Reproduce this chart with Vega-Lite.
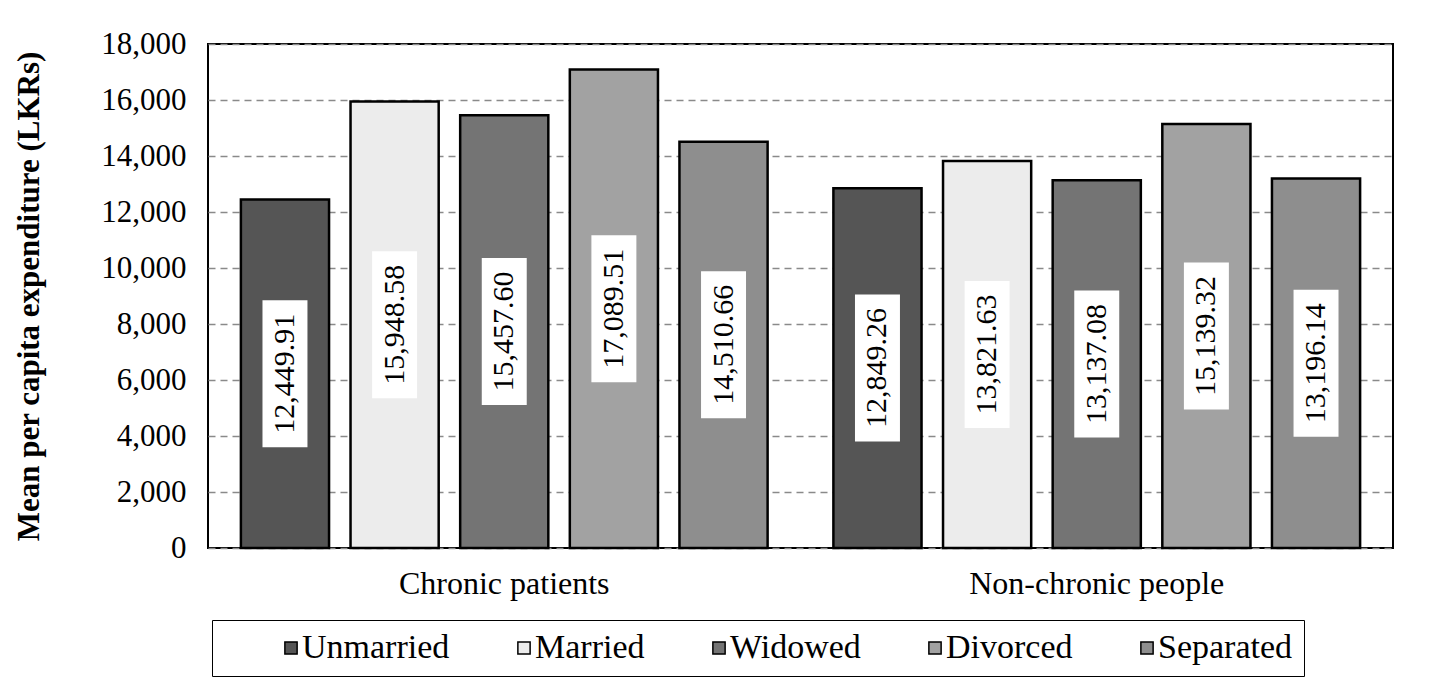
{
  "$schema": "https://vega.github.io/schema/vega-lite/v6.json",
  "autosize": {"type": "none"},
  "width": 1185,
  "height": 504,
  "padding": {"left": 208, "top": 44, "right": 37, "bottom": 142},
  "background": "white",
  "config": {
    "font": "Liberation Serif",
    "axis": {"labelFont": "Liberation Serif", "titleFont": "Liberation Serif"},
    "legend": {"labelFont": "Liberation Serif", "titleFont": "Liberation Serif"},
    "text": {"font": "Liberation Serif"},
    "view": {"stroke": "black", "strokeWidth": 2}
  },
  "data": {
    "values": [
      {"group": "Chronic patients", "status": "Unmarried", "value": 12449.91},
      {"group": "Chronic patients", "status": "Married", "value": 15948.58},
      {"group": "Chronic patients", "status": "Widowed", "value": 15457.60},
      {"group": "Chronic patients", "status": "Divorced", "value": 17089.51},
      {"group": "Chronic patients", "status": "Separated", "value": 14510.66},
      {"group": "Non-chronic people", "status": "Unmarried", "value": 12849.26},
      {"group": "Non-chronic people", "status": "Married", "value": 13821.63},
      {"group": "Non-chronic people", "status": "Widowed", "value": 13137.08},
      {"group": "Non-chronic people", "status": "Divorced", "value": 15139.32},
      {"group": "Non-chronic people", "status": "Separated", "value": 13196.14}
    ]
  },
  "encoding": {
    "x": {
      "field": "group", "type": "nominal", "sort": null,
      "scale": {"paddingInner": 0, "paddingOuter": 0},
      "axis": {"title": null, "labelAngle": 0, "labelFontSize": 32, "labelColor": "black", "labelPadding": 20, "labelLimit": 600, "ticks": false, "domain": false}
    },
    "xOffset": {
      "field": "status", "type": "nominal",
      "sort": ["Unmarried", "Married", "Widowed", "Divorced", "Separated"],
      "scale": {"paddingInner": 0.196, "paddingOuter": 0.3}
    }
  },
  "layer": [
    {
      "mark": {"type": "bar", "stroke": "black", "strokeWidth": 2.5},
      "encoding": {
        "y": {
          "field": "value", "type": "quantitative",
          "scale": {"domain": [0, 18000], "nice": false},
          "axis": {
            "title": "Mean per capita expenditure (LKRs)",
            "titleFontSize": 31, "titleFontWeight": "bold", "titleColor": "black", "titlePadding": 55,
            "values": [0, 2000, 4000, 6000, 8000, 10000, 12000, 14000, 16000, 18000],
            "format": ",.0f", "labelFontSize": 31, "labelColor": "black", "labelPadding": 22,
            "ticks": false, "domain": false,
            "grid": true, "gridColor": "#8a8a8a", "gridDash": [7, 5], "gridWidth": 1.5
          }
        },
        "color": {
          "field": "status", "type": "nominal",
          "sort": ["Unmarried", "Married", "Widowed", "Divorced", "Separated"],
          "scale": {
            "domain": ["Unmarried", "Married", "Widowed", "Divorced", "Separated"],
            "range": ["#555555", "#ececec", "#747474", "#a2a2a2", "#8e8e8e"]
          },
          "legend": {
            "title": " ", "titleOrient": "left", "titleFontSize": 1, "titlePadding": 51,
            "orient": "none", "direction": "horizontal",
            "legendX": 4, "legendY": 576,
            "strokeColor": "black", "padding": 11,
            "columnPadding": 57,
            "symbolType": "square", "symbolSize": 150, "symbolStrokeColor": "black", "symbolStrokeWidth": 1.5,
            "labelFontSize": 34, "labelColor": "black", "labelOffset": -6, "labelLimit": 400
          }
        }
      }
    },
    {
      "mark": {"type": "point", "shape": "M -0.306 -1 L 0.306 -1 L 0.306 1 L -0.306 1 Z", "filled": true, "fill": "white", "opacity": 1, "strokeWidth": 0, "size": 21609},
      "encoding": {
        "y": {"field": "value", "type": "quantitative", "scale": {"domain": [0, 36000], "nice": false}, "axis": null}
      }
    },
    {
      "mark": {"type": "text", "angle": 270, "align": "center", "baseline": "middle", "fontSize": 30, "color": "black"},
      "encoding": {
        "y": {"field": "value", "type": "quantitative", "scale": {"domain": [0, 36000], "nice": false}, "axis": null},
        "text": {"field": "value", "type": "quantitative", "format": ",.2f"}
      }
    }
  ],
  "resolve": {"scale": {"y": "independent"}}
}
